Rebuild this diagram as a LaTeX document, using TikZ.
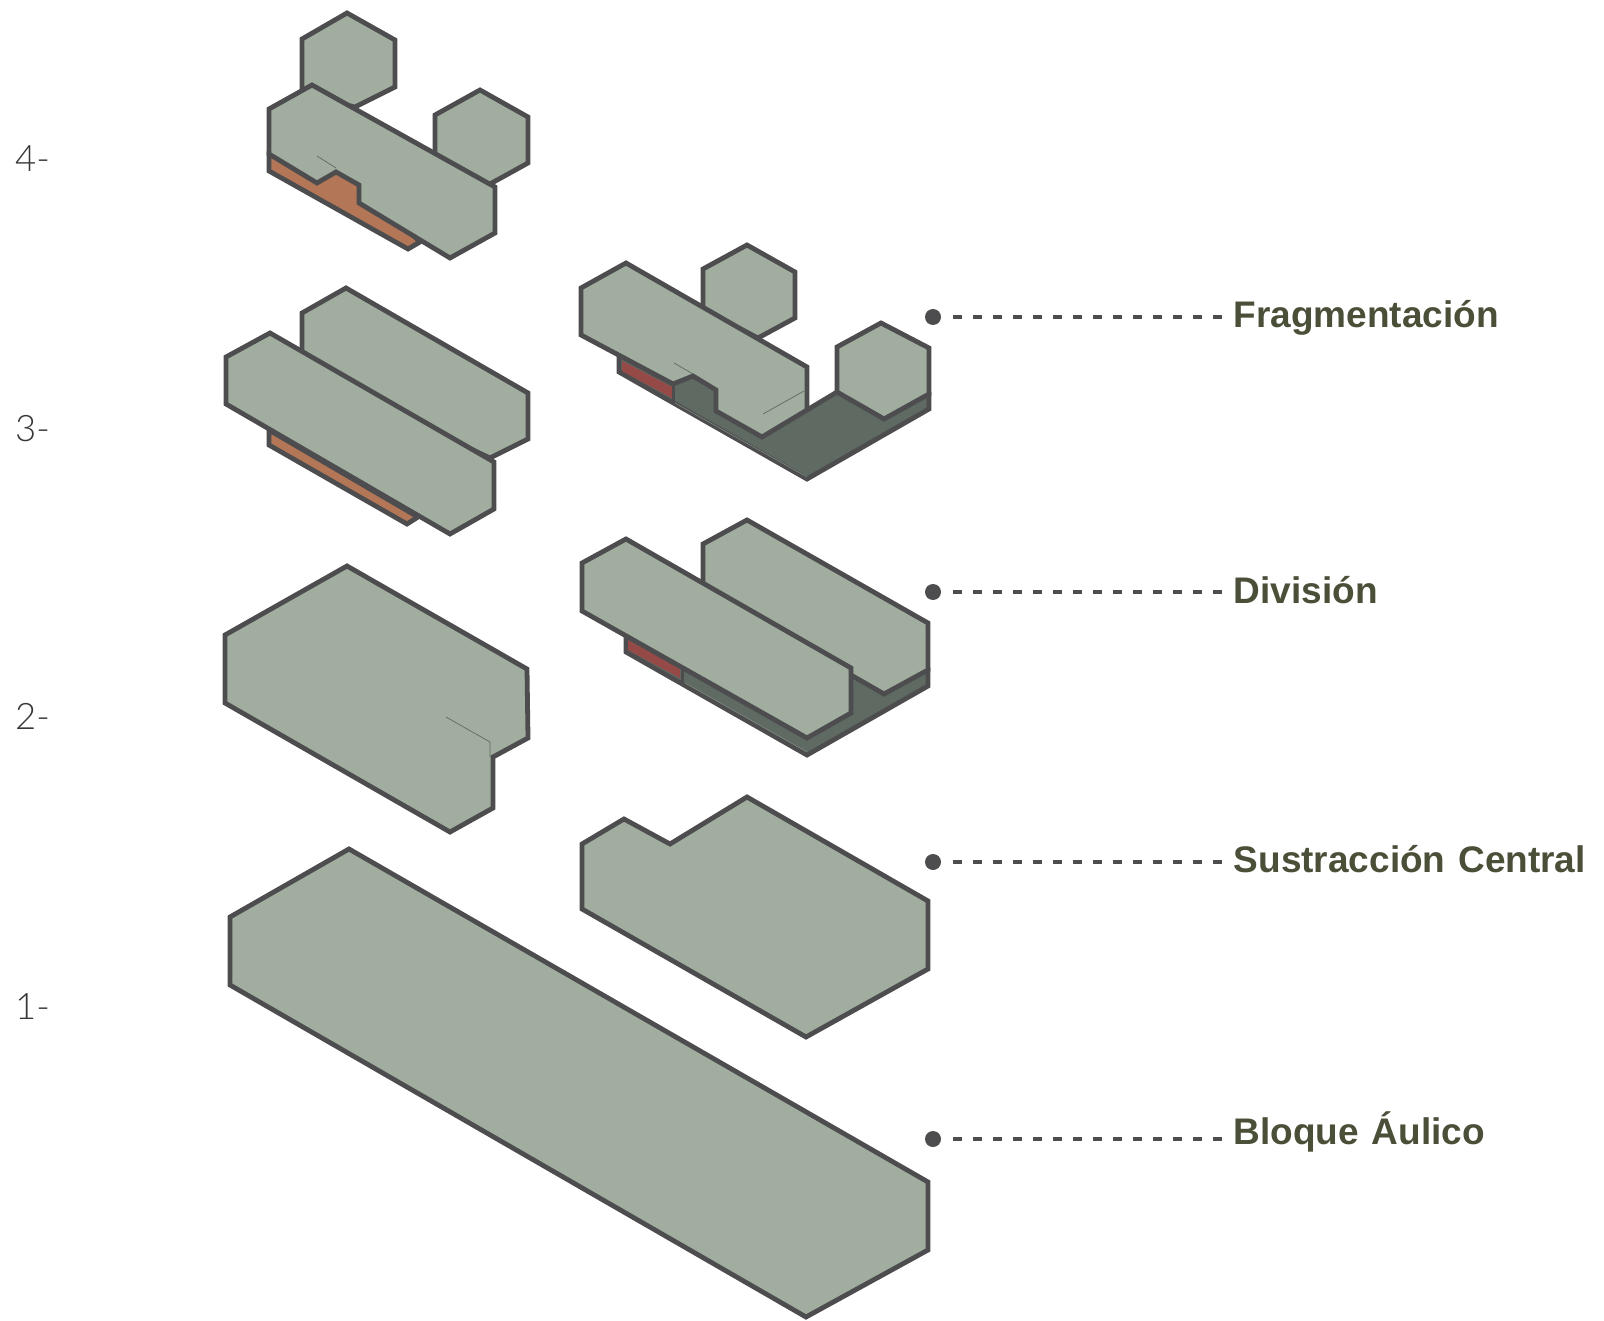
\documentclass[tikz,border=0pt]{standalone}
\usepackage{fontspec}
\setmainfont[WordSpace=1.25]{Liberation Sans}
\newfontfamily\numfont{Lato Light}
\definecolor{blockgreen}{HTML}{A0AD9F}
\definecolor{slabdark}{HTML}{5F6A62}
\definecolor{slabred}{HTML}{954A47}
\definecolor{slabterra}{HTML}{B37757}
\definecolor{edgegrey}{HTML}{4D4D4F}
\definecolor{labelolive}{HTML}{4A4F38}
\definecolor{numgrey}{HTML}{37373A}
\tikzset{
  blockface/.style={draw=edgegrey, fill=blockgreen, line width=4.8pt, line join=miter},
  slabface/.style={blockface, fill=slabdark},
  redface/.style={fill=slabred},
  terraface/.style={blockface, fill=slabterra},
  hairline/.style={draw=slabdark, line width=.7pt},
  glintline/.style={draw=blockgreen!60!slabdark, line width=.5pt},
  leaderdot/.style={circle, fill=edgegrey, minimum size=16pt, inner sep=0pt},
  leaderline/.style={draw=edgegrey, line width=3.2pt, dash pattern=on 9pt off 11pt},
  steplabel/.style={text=labelolive, font=\fontsize{37}{40}\selectfont\bfseries, anchor=base west, inner sep=0pt},
  levelnum/.style={text=numgrey, font=\fontsize{36.5}{40}\selectfont\numfont, anchor=base west, inner sep=0pt}
}
\begin{document}
\begin{tikzpicture}[x=1pt, y=-1pt]
  \useasboundingbox (0,0) rectangle (1604,1321);
  % left column, top group
  \draw[blockface] (347,13) -- (302,39) -- (302,95) -- (355,107) -- (395,87) -- (395,40) -- cycle;
  \draw[blockface] (480,90) -- (435,115) -- (435,170) -- (490,184) -- (528,163) -- (528,117) -- cycle;
  \draw[terraface] (269,154) -- (269,171) -- (408,249) -- (420,242) -- (340,160) -- cycle;
  \draw[blockface] (312,85) -- (269,109) -- (269,154) -- (317,183) -- (336,172) -- (359,185) -- (359,203)
                   -- (450,258) -- (495,233) -- (495,187) -- cycle;
  \draw[hairline] (317,156) -- (336,168);
  % left column, two bars
  \draw[blockface] (346,288) -- (302,313) -- (302,370) -- (490,458) -- (528,439) -- (528,393) -- cycle;
  \draw[terraface] (269,430) -- (269,445) -- (407,524) -- (418,517) -- cycle;
  \draw[blockface] (270,333) -- (226,357) -- (226,404) -- (450,534) -- (494,509) -- (494,462) -- cycle;
  % left column, cut block
  \draw[blockface] (347,566) -- (225,635) -- (225,703) -- (450,832) -- (493,808) -- (493,757)
                   -- (528,738) -- (527,669) -- cycle;
  \draw[hairline] (446,717) -- (490,742) -- (490,757);
  % whole block
  \draw[blockface] (349,849) -- (230,917) -- (230,985) -- (806,1317) -- (928,1250) -- (928,1182) -- cycle;
  % right column, top group
  \draw[slabface] (619,350) -- (619,372) -- (807,479) -- (929,409) -- (929,394) -- (860,380) -- (837,392) -- (807,410) -- (760,400) -- cycle;
  \fill[redface] (622,361) -- (672,387) -- (672,398) -- (622,371) -- cycle;
  \draw[edgegrey, line width=3pt] (673,384) -- (673,402);
  \draw[glintline] (675,403) -- (807,477);
  \draw[blockface] (747,245) -- (703,269) -- (703,310) -- (758,338) -- (795,318) -- (795,272) -- cycle;
  \draw[blockface] (626,263) -- (581,288) -- (581,335) -- (673,384) -- (693,376) -- (716,390) -- (716,411)
                   -- (762,437) -- (807,410) -- (807,367) -- cycle;
  \draw[hairline] (674,363) -- (693,374);
  \draw[hairline] (763,414) -- (804,391);
  \draw[blockface] (881,323) -- (837,347) -- (837,392) -- (884,419) -- (929,394) -- (929,348) -- cycle;
  % right column, two bars on slab
  \draw[slabface] (626,630) -- (626,652) -- (807,755) -- (928,686) -- (928,670) -- (850,665) -- cycle;
  \fill[redface] (628,640) -- (680,668) -- (680,678) -- (628,650) -- cycle;
  \draw[edgegrey, line width=3pt] (682,670) -- (682,682);
  \draw[glintline] (685,683) -- (807,752);
  \draw[blockface] (747,520) -- (703,544) -- (703,590) -- (884,694) -- (928,670) -- (928,623) -- cycle;
  \draw[blockface] (626,539) -- (582,563) -- (582,611) -- (807,738) -- (851,713) -- (851,668) -- cycle;
  % right column, notched block
  \draw[blockface] (624,819) -- (582,844) -- (582,909) -- (806,1037) -- (928,969) -- (928,901) -- (747,797)
                   -- (670,844) -- cycle;
  % level numbers
  \foreach \lev/\yy in {4/172, 3/442, 2/729, 1/1019}{
    \node[levelnum] (lev\lev) at (15,\yy) {\lev-};
  }
  % leaders
  \foreach \nm/\yy/\yb/\txt in {frag/317/328/Fragmentación, divi/592/603/División,
                                sust/862/872/Sustracción Central, bloq/1139/1144/Bloque Áulico}{
    \node[leaderdot] (dot\nm) at (933,\yy) {};
    \node[steplabel] (lab\nm) at (1233.5,\yb) {\txt};
    \draw[leaderline, shorten <=11.8pt, shorten >=11.5pt] (dot\nm) -- (dot\nm -| lab\nm.west);
  }
\end{tikzpicture}
\end{document}
